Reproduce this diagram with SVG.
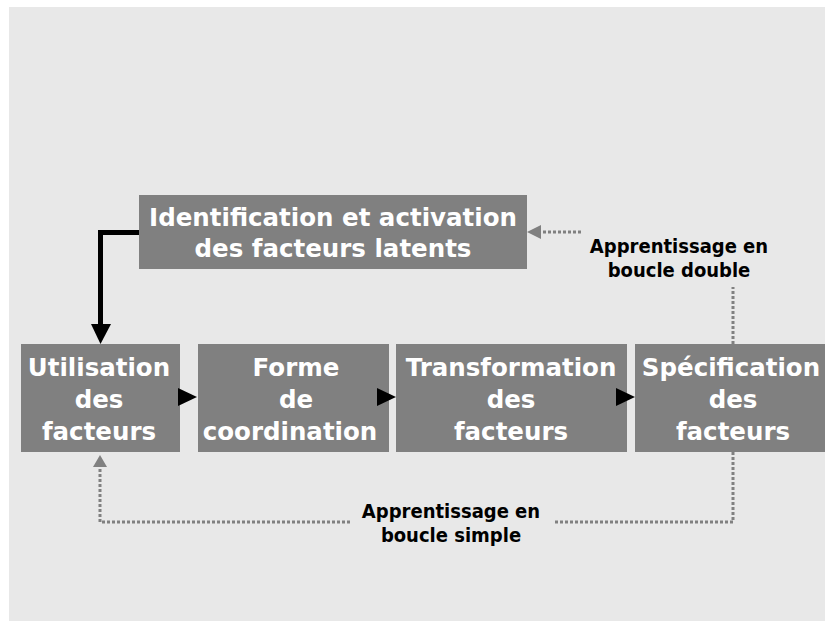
<svg xmlns="http://www.w3.org/2000/svg" width="825" height="621" viewBox="0 0 825 621">
<style>
.box{fill:#808080}
.bt{font-family:"DejaVu Sans","Liberation Sans",sans-serif;font-weight:bold;font-size:24.5px;fill:#ffffff;text-anchor:middle}
.lb{font-family:"DejaVu Sans Condensed","DejaVu Sans",sans-serif;font-stretch:condensed;font-weight:bold;font-size:20px;fill:#000000;text-anchor:middle}
.dot{fill:none;stroke:#808080;stroke-width:3;stroke-dasharray:3 2}
.solid{fill:none;stroke:#000000;stroke-width:5}
</style>
<rect x="0" y="0" width="825" height="621" fill="#ffffff"/>
<rect x="9" y="7" width="816" height="614" fill="#e8e8e8"/>
<g id="n-identification">
<rect class="box" x="139" y="195" width="388" height="74"/>
<text class="bt" x="333" y="226">Identification et activation</text>
<text class="bt" x="333" y="257">des facteurs latents</text>
</g>
<g id="n-utilisation">
<rect class="box" x="21" y="344" width="159" height="108"/>
<text class="bt" x="99" y="376">Utilisation</text>
<text class="bt" x="99" y="408">des</text>
<text class="bt" x="99" y="440">facteurs</text>
</g>
<g id="n-forme">
<rect class="box" x="198" y="344" width="191" height="108"/>
<text class="bt" x="296" y="376">Forme</text>
<text class="bt" x="296" y="408">de</text>
<text class="bt" x="290" y="440">coordination</text>
</g>
<g id="n-transformation">
<rect class="box" x="396" y="344" width="231" height="108"/>
<text class="bt" x="511" y="376">Transformation</text>
<text class="bt" x="511" y="408">des</text>
<text class="bt" x="511" y="440">facteurs</text>
</g>
<g id="n-specification">
<rect class="box" x="635" y="344" width="190" height="108"/>
<text class="bt" x="731" y="376">Spécification</text>
<text class="bt" x="733" y="408">des</text>
<text class="bt" x="733" y="440">facteurs</text>
</g>
<g id="connectors">
<path class="solid" d="M139,232.5 H100.5 V326"/>
<polygon points="91,324 111,324 100.5,344" fill="#000"/>
<polygon points="178,388 178,406 197,397" fill="#000"/>
<polygon points="377,388 377,406 396,397" fill="#000"/>
<polygon points="616,388 616,406 635,397" fill="#000"/>
<path class="dot" d="M733,344 V287"/>
<path class="dot" d="M581,232 H541"/>
<polygon points="541,225 541,239 527,232" fill="#808080"/>
<path class="dot" d="M733,452 V522 H553"/>
<path class="dot" d="M350,522 H100 V467"/>
<polygon points="93,467 107,467 100,455" fill="#808080"/>
</g>
<g id="l-double">
<text class="lb" x="679" y="253">Apprentissage en</text>
<text class="lb" x="679" y="277">boucle double</text>
</g>
<g id="l-simple">
<text class="lb" x="451" y="518">Apprentissage en</text>
<text class="lb" x="451" y="542">boucle simple</text>
</g>
</svg>
